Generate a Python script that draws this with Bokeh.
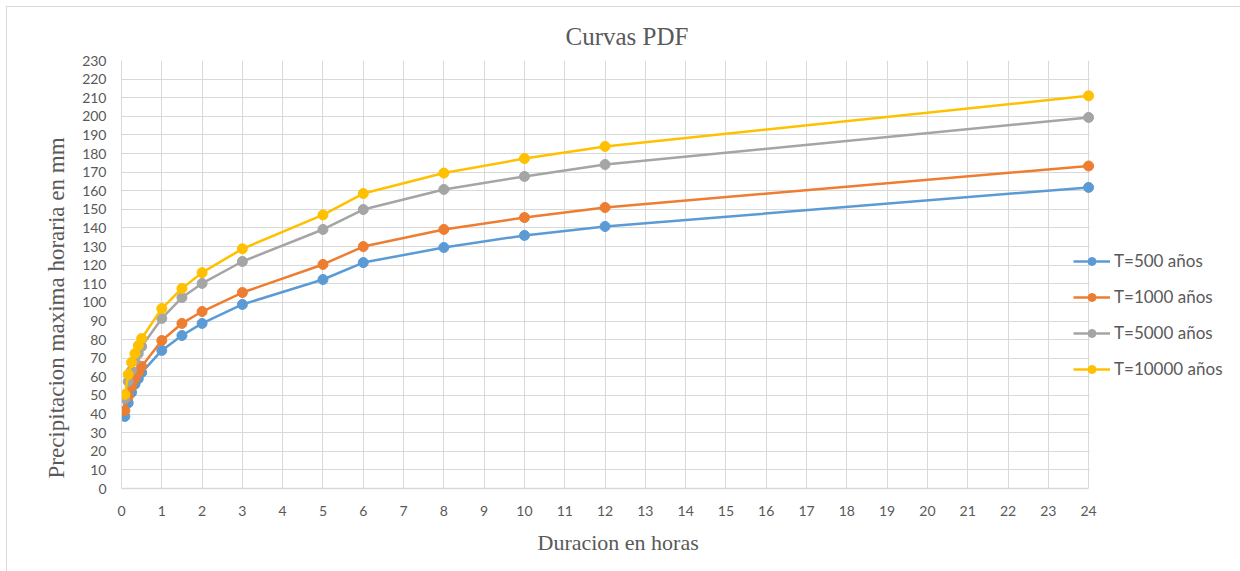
from bokeh.plotting import figure
from bokeh.models import Range1d, FixedTicker, Legend, LegendItem, Title, BoxAnnotation
from bokeh.embed import file_html
from bokeh.resources import INLINE

durations = [0.0833, 0.1667, 0.25, 0.3333, 0.4167, 0.5, 1, 1.5, 2, 3, 5, 6, 8, 10, 12, 24]
t500 = [38.7, 46.0, 51.6, 56.0, 59.0, 62.3, 74.2, 82.2, 88.7, 98.9, 112.3, 121.4, 129.5, 136.0, 140.8, 161.8]
t1000 = [41.9, 49.4, 54.8, 59.0, 62.3, 65.6, 79.5, 88.7, 95.1, 105.3, 120.4, 130.0, 139.2, 145.6, 151.0, 173.3]
t5000 = [48.4, 57.5, 63.4, 68.8, 72.5, 76.3, 91.4, 102.6, 110.2, 122.0, 139.2, 149.9, 160.7, 167.7, 174.1, 199.4]
t10000 = [50.5, 61.3, 67.7, 72.5, 76.8, 80.6, 96.7, 107.5, 116.0, 128.8, 147.0, 158.5, 169.5, 177.3, 183.8, 211.0]

series_names = ["T=500 años", "T=1000 años", "T=5000 años", "T=10000 años"]
series_vals = [t500, t1000, t5000, t10000]
colors = ["#5B9BD5", "#ED7D31", "#A5A5A5", "#FFC000"]
x_ticks = list(range(0, 25))
y_ticks = list(range(0, 231, 10))
x_max = 24

p = figure(width=1233, height=564, output_backend="svg", toolbar_location=None,
           x_range=Range1d(0, 27.72), y_range=Range1d(0, 230),
           min_border_left=114, min_border_right=2, min_border_top=53, min_border_bottom=83)
p.margin = (7, 0, 0, 7)
p.styles = {"outline": "1px solid #d9d9d9"}
p.outline_line_color = None
p.background_fill_color = "white"
p.border_fill_color = "white"

p.title = Title(text="Curvas PDF", align="left", offset=444,
                text_font="Liberation Serif", text_font_size="25px",
                text_font_style="normal", text_color="#595959", standoff=21)

ylab = Title(text="Precipitacion maxima horaria  en mm", align="left", offset=10,
             text_font="Liberation Serif", text_font_size="23px",
             text_font_style="normal", text_color="#595959", standoff=22)
p.add_layout(ylab, "left")

xlab = Title(text="Duracion en horas", align="left", offset=416,
             text_font="Liberation Serif", text_font_size="22px",
             text_font_style="normal", text_color="#595959", standoff=19)
p.add_layout(xlab, "below")

for ax in (p.xaxis[0], p.yaxis[0]):
    ax.major_tick_line_color = None
    ax.minor_tick_line_color = None
    ax.major_label_text_font = "Lato"
    ax.major_label_text_font_size = "14px"
    ax.major_label_text_color = "#595959"

p.xaxis.ticker = FixedTicker(ticks=x_ticks)
p.yaxis.ticker = FixedTicker(ticks=y_ticks)
p.xaxis.bounds = (0, x_max)
p.xaxis.axis_line_color = "#d9d9d9"
p.xaxis.axis_line_width = 1.5
p.yaxis.axis_line_color = "#d9d9d9"
p.xaxis.major_label_standoff = 11
p.yaxis.major_label_standoff = 9

p.xgrid.ticker = FixedTicker(ticks=x_ticks)
p.ygrid.ticker = FixedTicker(ticks=y_ticks)
p.grid.grid_line_color = "#d9d9d9"
p.grid.grid_line_width = 1

# white cover over the grid right of the last x tick (legend area)
cover = BoxAnnotation(left=x_max + 0.03, fill_color="white", fill_alpha=1,
                      line_color=None, level="underlay")
p.add_layout(cover)

items = []
for name, vals, c in zip(series_names, series_vals, colors):
    r1 = p.line(durations, vals, line_color=c, line_width=2.5)
    r2 = p.scatter(durations, vals, size=10, fill_color=c, line_color=c)
    items.append(LegendItem(label=name, renderers=[r1, r2]))

legend = Legend(items=items, location=(952, 109), orientation="vertical",
                border_line_color=None, background_fill_alpha=0,
                label_text_font="Lato", label_text_font_size="17px",
                label_text_color="#595959", glyph_width=37, glyph_height=20,
                label_height=20, spacing=15, padding=0, margin=0, label_standoff=4)
p.add_layout(legend, "center")

open("out.html", "w").write(file_html(p, INLINE))
